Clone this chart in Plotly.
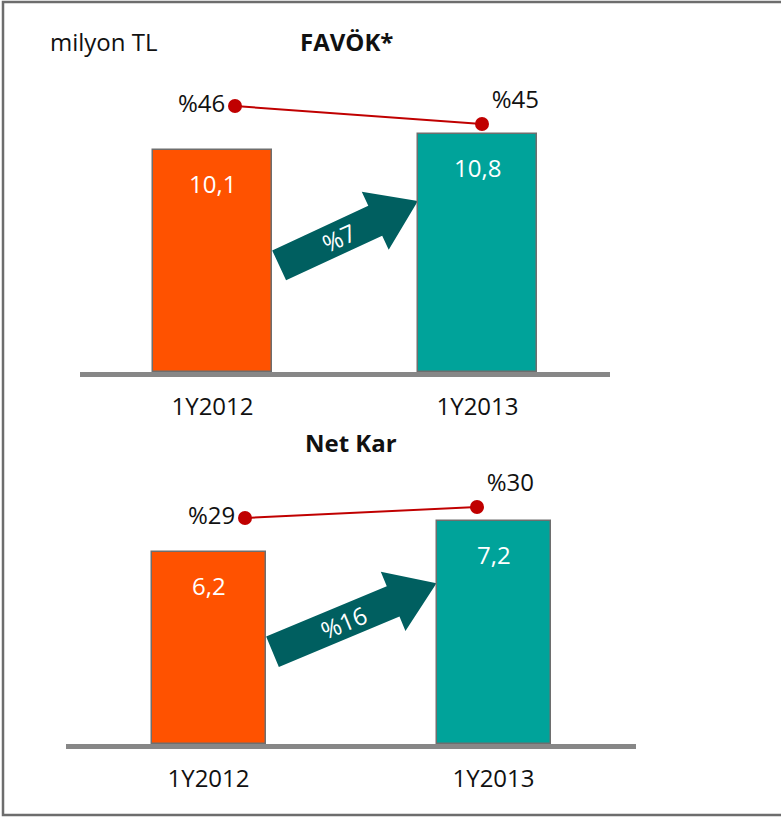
import math
import plotly.graph_objects as go

# ---------------- data ----------------
categories = ["1Y2012", "1Y2013"]
favok_values = [10.1, 10.8]
favok_labels = ["10,1", "10,8"]
favok_margin = [46, 45]
favok_margin_labels = ["%46", "%45"]
favok_growth = "%7"

netkar_values = [6.2, 7.2]
netkar_labels = ["6,2", "7,2"]
netkar_margin = [29, 30]
netkar_margin_labels = ["%29", "%30"]
netkar_growth = "%16"

bar_colors = ["#FF5200", "#00A39A"]
W, H = 781, 817
FONT = "Open Sans"
FS = 24

# ---------------- layout geometry (pixels) ----------------
panels = [
    dict(x0=80, x1=610, base=372, top=60, yscale=22.0, bw=0.45,
         lx0=235, lx1=482, ly=(46, 106, 18.0),
         values=favok_values, labels=favok_labels, margin=favok_margin,
         mlabels=favok_margin_labels, growth=favok_growth,
         title="FAVÖK*", title_y=42, title_x=346),
    dict(x0=66, x1=636, base=744, top=460, yscale=31.0, bw=0.40,
         lx0=245, lx1=477, ly=(29, 518, 11.0),
         values=netkar_values, labels=netkar_labels, margin=netkar_margin,
         mlabels=netkar_margin_labels, growth=netkar_growth,
         title="Net Kar", title_y=442, title_x=351),
]

fig = go.Figure()
annotations = []
shapes = []


def to_paper(px, py):
    return px / W, 1 - py / H


for i, p in enumerate(panels):
    xa = "x" if i == 0 else "x2"
    ya = "y" if i == 0 else "y3"
    xa_line = "x3" if i == 0 else "x4"
    ya_line = "y2" if i == 0 else "y4"
    xdom = [p["x0"] / W, p["x1"] / W]
    ydom = [1 - p["base"] / H, 1 - p["top"] / H]
    ymax = (p["base"] - p["top"]) / p["yscale"]
    # secondary y (margins)
    mval, mpy, mscale = p["ly"]
    y2lo = mval - (p["base"] - mpy) / mscale
    y2hi = y2lo + (p["base"] - p["top"]) / mscale
    # secondary x (line positions)
    span = p["x1"] - p["x0"]
    ppu = p["lx1"] - p["lx0"]
    x2lo = -(p["lx0"] - p["x0"]) / ppu
    x2hi = x2lo + span / ppu

    fig.add_trace(go.Bar(
        x=categories, y=p["values"], marker=dict(color=bar_colors,
                                                 line=dict(color="#6E6E6E", width=1.5)),
        width=p["bw"], xaxis=xa, yaxis=ya, showlegend=False, hoverinfo="skip"))
    fig.add_trace(go.Scatter(
        x=categories, y=p["margin"], mode="lines+markers+text",
        text=p["mlabels"], textposition=["middle left", "top right"],
        textfont=dict(size=FS, color="#111111", family=FONT),
        line=dict(color="#C00000", width=2),
        marker=dict(color="#C00000", size=14),
        xaxis=xa_line, yaxis=ya_line, showlegend=False, hoverinfo="skip",
        cliponaxis=False))

    ax_common = dict(showgrid=False, zeroline=False)
    fig.layout[("xaxis" if i == 0 else "xaxis2")] = dict(
        domain=xdom, anchor=ya, type="category", range=[-0.5, 1.5],
        showline=True, linecolor="#878787", linewidth=5, ticks="",
        ticklabelstandoff=9, tickfont=dict(size=FS, color="#111111", family=FONT),
        **ax_common)
    fig.layout[("yaxis" if i == 0 else "yaxis3")] = dict(
        domain=ydom, anchor=xa, range=[0, ymax], visible=False, **ax_common)
    fig.layout[("xaxis3" if i == 0 else "xaxis4")] = dict(
        overlaying=xa, anchor=ya_line, type="category", range=[x2lo, x2hi],
        visible=False, **ax_common)
    fig.layout[("yaxis2" if i == 0 else "yaxis4")] = dict(
        overlaying=ya, anchor=xa_line, range=[y2lo, y2hi], visible=False, **ax_common)

    # value labels inside bars
    for c, v, t in zip(categories, p["values"], p["labels"]):
        annotations.append(dict(x=c, y=v, xref=xa, yref=ya, text=t, showarrow=False,
                                xanchor="center", yanchor="top", yshift=-15,
                                font=dict(size=FS, color="white", family=FONT)))

    # growth arrow, derived from the bar geometry
    xppu = span / 2.0
    cx0 = p["x0"] + 0.5 * xppu
    cx1 = p["x0"] + 1.5 * xppu
    bar_half = p["bw"] / 2 * xppu
    tail = (cx0 + bar_half + 7, p["base"] - 0.48 * p["values"][0] * p["yscale"])
    tip = (cx1 - bar_half, p["base"] - 0.72 * p["values"][1] * p["yscale"])
    dx, dy = tip[0] - tail[0], tip[1] - tail[1]
    L = math.hypot(dx, dy)
    ux, uy = dx / L, dy / L
    nx, ny = -uy, ux
    w, hw, hl = 16.5, 32, 47
    bx, by = tip[0] - hl * ux, tip[1] - hl * uy
    pts = [
        (tail[0] + w * nx, tail[1] + w * ny),
        (bx + w * nx, by + w * ny),
        (bx + hw * nx, by + hw * ny),
        tip,
        (bx - hw * nx, by - hw * ny),
        (bx - w * nx, by - w * ny),
        (tail[0] - w * nx, tail[1] - w * ny),
    ]
    path = ""
    for k, (qx, qy) in enumerate(pts):
        px_, py_ = to_paper(qx, qy)
        path += ("M" if k == 0 else "L") + f"{px_:.5f},{py_:.5f} "
    path += "Z"
    shapes.append(dict(type="path", xref="paper", yref="paper", path=path,
                       fillcolor="#005F60", line=dict(width=0), layer="below"))
    angle = math.degrees(math.atan2(dy, dx))
    tx, ty = tail[0] + 0.43 * dx, tail[1] + 0.43 * dy
    ptx, pty = to_paper(tx, ty)
    annotations.append(dict(x=ptx, y=pty, xref="paper", yref="paper", text=p["growth"],
                            showarrow=False, textangle=angle,
                            xanchor="center", yanchor="middle",
                            font=dict(size=FS, color="white", family=FONT)))

    # panel title
    tx_, ty_ = to_paper(p["title_x"], p["title_y"])
    annotations.append(dict(x=tx_, y=ty_, xref="paper", yref="paper",
                            text="<b>" + p["title"] + "</b>", showarrow=False,
                            xanchor="center", yanchor="middle",
                            font=dict(size=FS, color="#111111", family=FONT)))

mx, my = to_paper(104, 42)
annotations.append(dict(x=mx, y=my, xref="paper", yref="paper", text="milyon TL",
                        showarrow=False, xanchor="center", yanchor="middle",
                        font=dict(size=FS, color="#111111", family=FONT)))

# outer frame
fx0, fy0 = to_paper(3, 815)
fx1, fy1 = to_paper(800, 2)
shapes.append(dict(type="rect", xref="paper", yref="paper", x0=fx0, y0=fy0, x1=fx1, y1=fy1,
                   line=dict(color="#6D6D6D", width=2.5), fillcolor="rgba(0,0,0,0)"))

fig.update_layout(width=W, height=H, margin=dict(l=0, r=0, t=0, b=0),
                  paper_bgcolor="white", plot_bgcolor="rgba(0,0,0,0)",
                  annotations=annotations, shapes=shapes, bargap=0,
                  font=dict(family=FONT))

fig.write_html("out.html")
